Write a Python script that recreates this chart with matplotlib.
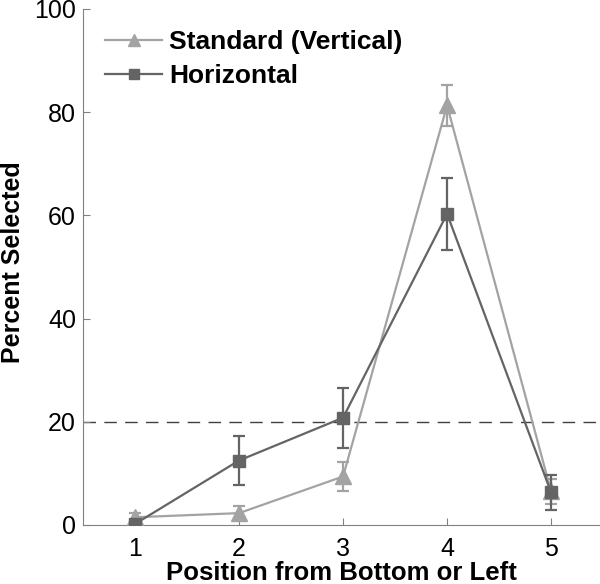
import matplotlib.pyplot as plt
from matplotlib.lines import Line2D

plt.rcParams['font.family'] = ['Liberation Sans', 'DejaVu Sans']

positions = [1, 2, 3, 4, 5]
standard = [1.5, 2.3, 9.4, 81.3, 6.5]
standard_err = [0.8, 1.4, 2.9, 4.0, 2.5]
horizontal = [0.2, 12.5, 20.8, 60.3, 6.3]
horizontal_err = [0.5, 4.8, 5.8, 7.0, 3.4]
chance = 20

fig = plt.figure(figsize=(6, 5.84), dpi=100)
ax = fig.add_axes([83 / 600, 59 / 584, 517 / 600, 516 / 584])

light = '#a3a3a3'
dark = '#646464'

ax.errorbar(positions, standard, yerr=standard_err, color=light, marker='^',
            markersize=11, linewidth=1.6, capsize=4, elinewidth=1.6,
            capthick=1.6, zorder=3)
ax.errorbar(positions, horizontal, yerr=horizontal_err, color=dark, marker='s',
            markersize=8, linewidth=1.6, capsize=4, elinewidth=1.6,
            capthick=1.6, zorder=4)
ax.axhline(chance, color='#404040', linestyle=(0, (9, 6)), linewidth=1.0, zorder=1)

ax.set_xlim(0.5, 5.47)
ax.set_ylim(0, 100)
ax.set_xticks(positions)
ax.set_yticks([0, 20, 40, 60, 80, 100])
ax.tick_params(direction='in', labelsize=18, color='#808080', length=5)
ax.tick_params(axis='x', pad=9)
ax.tick_params(axis='y', pad=5)
for side in ['top', 'right']:
    ax.spines[side].set_visible(False)
for side in ['left', 'bottom']:
    ax.spines[side].set_color('#808080')

ax.set_xlabel('Position from Bottom or Left', fontsize=18.5, fontweight='bold')
ax.xaxis.set_label_coords(0.5, -0.07)
ax.set_ylabel('Percent Selected', fontsize=18, fontweight='bold')
ax.yaxis.set_label_coords(-0.112, 0.51)

handles = [
    Line2D([], [], color=light, marker='^', markersize=9, linewidth=1.6),
    Line2D([], [], color=dark, marker='s', markersize=7, linewidth=1.6),
]
labels = ['Standard (Vertical)', 'Horizontal']
ax.legend(handles, labels, loc='upper left', bbox_to_anchor=(0.023, 0.98),
          frameon=False, prop={'size': 19, 'weight': 'bold'},
          handlelength=2.15, handletextpad=0.25, labelspacing=0.38,
          borderaxespad=0.0)

fig.savefig('out.png', dpi=100)
